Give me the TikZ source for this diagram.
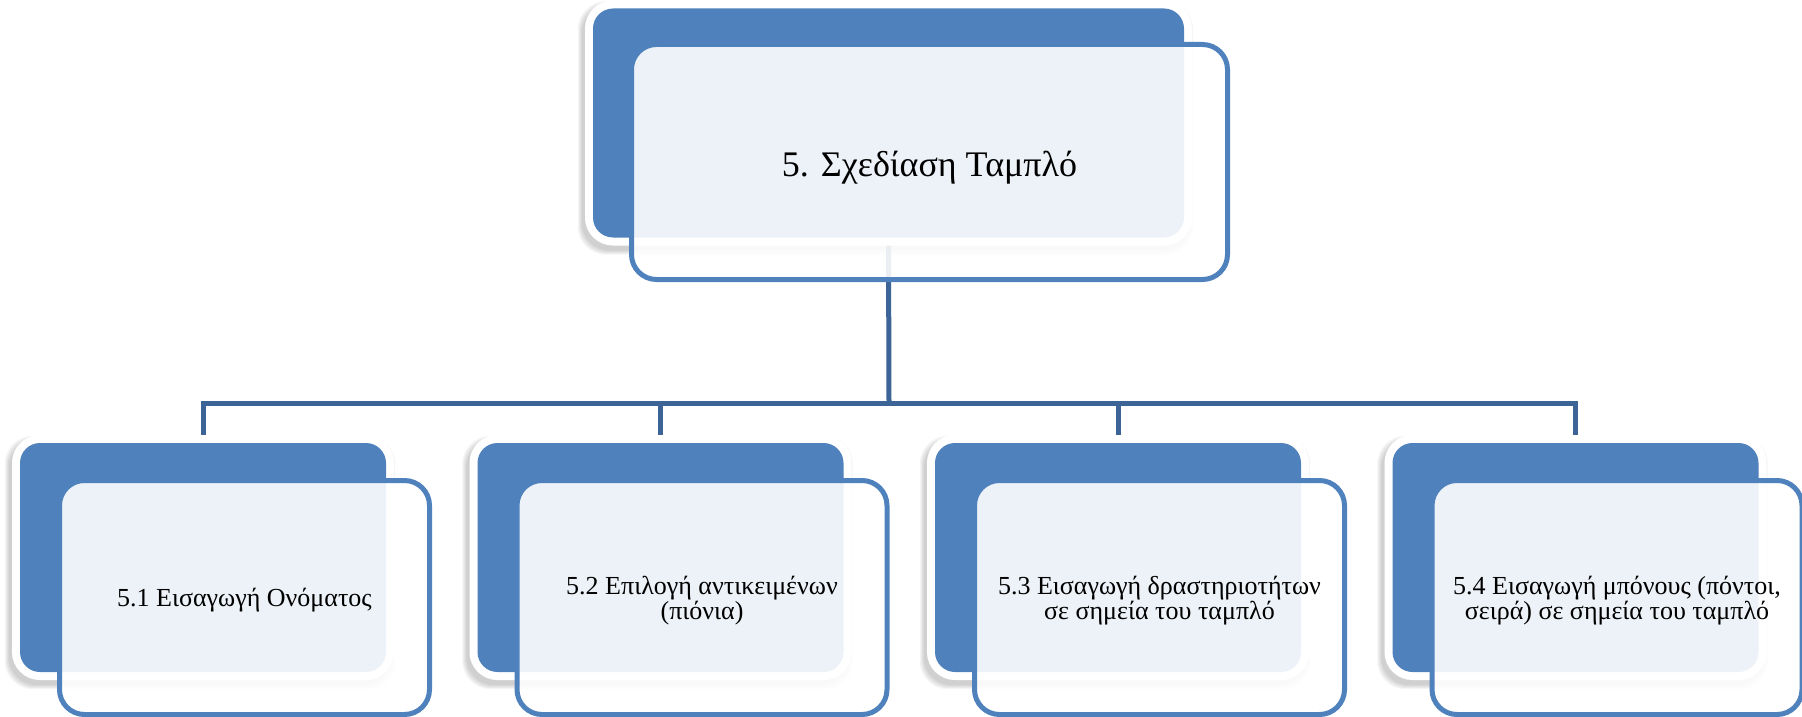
\documentclass[tikz,border=0pt]{standalone}
\usepackage{fontspec}
\setmainfont{Liberation Serif}
\definecolor{accent}{RGB}{79,129,189}
\definecolor{conn}{RGB}{60,100,150}
\begin{document}
\begin{tikzpicture}[x=1pt,y=-1pt,
  backbox/.style={fill=accent, rounded corners=20pt, inner sep=0pt,
    minimum height=229pt, preaction={draw=white, line width=16pt}},
  ghostbox/.style={inner sep=0pt, minimum height=229pt},
  frontbox/.style={draw=accent, line width=5pt, fill=white, fill opacity=0.9,
    rounded corners=25pt, inner sep=0pt,
    minimum width=370pt, minimum height=234pt},
  subtext/.style={font=\fontsize{26}{25}\selectfont, align=center, inner sep=0pt},
  toptext/.style={font=\fontsize{36}{40}\selectfont, inner sep=0pt},
  connline/.style={draw=conn, line width=5pt},
  shadowfill/.style={fill=black, fill opacity=0.04, rounded corners=28pt}]
\useasboundingbox (0,0) rectangle (1802,717);

% back box frames (positions)
\node[ghostbox, minimum width=591pt] (bt) at (888.5,123) {};
\node[ghostbox, minimum width=366pt] (b1) at (203,557.5) {};
\node[ghostbox, minimum width=366pt] (b2) at (660.5,557.5) {};
\node[ghostbox, minimum width=366pt] (b3) at (1118,557.5) {};
\node[ghostbox, minimum width=366pt] (b4) at (1575.5,557.5) {};

% connectors
\coordinate (bar) at (889,403);
\draw[connline] (bt.south) -- (bar);
\draw[connline] (b1.north) |- (bar) -| (b4.north);
\draw[connline] (b2.north) -- (b2.north |- bar);
\draw[connline] (b3.north) -- (b3.north |- bar);

% shadows
\foreach \b in {bt,b1,b2,b3,b4}{
  \foreach \k in {0,...,4}{
    \fill[shadowfill] ([shift={(-11-\k,13+\k)}]\b.south west)
      rectangle ([shift={(5+\k,-3-\k)}]\b.north east);
  }
}

% visible back boxes
\node[backbox, minimum width=591pt] (vbt) at (bt) {};
\node[backbox, minimum width=366pt] (vb1) at (b1) {};
\node[backbox, minimum width=366pt] (vb2) at (b2) {};
\node[backbox, minimum width=366pt] (vb3) at (b3) {};
\node[backbox, minimum width=366pt] (vb4) at (b4) {};

% front boxes
\node[frontbox, minimum width=596pt, minimum height=235pt] (ft) at (929.5,162) {};
\node[frontbox] (f1) at (244.5,597.5) {};
\node[frontbox] (f2) at (702,597.5) {};
\node[frontbox] (f3) at (1159.5,597.5) {};
\node[frontbox] (f4) at (1617,597.5) {};

% texts
\node[toptext] (tt) at ([yshift=-6pt]ft.center) {5. Σχεδίαση Ταμπλό};
\node[subtext] (t1) at ([yshift=-3pt]f1.center) {5.1 Εισαγωγή Ονόματος};
\node[subtext] (t2) at ([yshift=-3pt]f2.center) {5.2 Επιλογή αντικειμένων\\(πιόνια)};
\node[subtext] (t3) at ([yshift=-3pt]f3.center) {5.3 Εισαγωγή δραστηριοτήτων\\σε σημεία του ταμπλό};
\node[subtext] (t4) at ([yshift=-3pt]f4.center) {5.4 Εισαγωγή μπόνους (πόντοι,\\σειρά) σε σημεία του ταμπλό};
\end{tikzpicture}
\end{document}
